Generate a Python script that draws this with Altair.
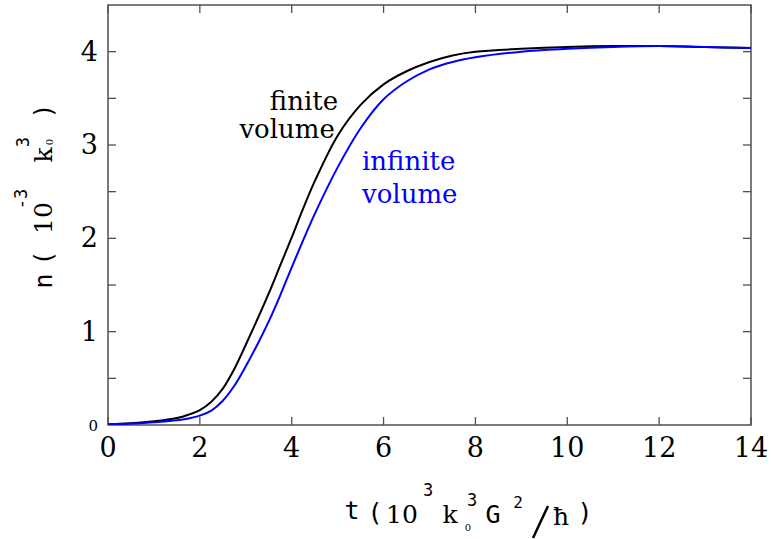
import altair as alt
import pandas as pd

# Number density n (10^-3 k0^3) against time t for the two volumes
t = [0, 0.5, 1, 1.5, 1.75, 2, 2.25, 2.5, 2.75, 3, 3.25, 3.5, 3.75, 4, 4.25, 4.5, 5, 5.5, 6,
     6.5, 7, 7.5, 8, 9, 10, 11, 12, 13, 14]
n_finite = [0.01, 0.02, 0.04, 0.075, 0.11, 0.16, 0.25, 0.39, 0.60, 0.86, 1.13, 1.41, 1.71,
            2.01, 2.32, 2.61, 3.10, 3.43, 3.65, 3.79, 3.89, 3.96, 4.00, 4.03, 4.05, 4.06,
            4.06, 4.05, 4.04]
n_infinite = [0.01, 0.015, 0.03, 0.05, 0.07, 0.10, 0.155, 0.26, 0.42, 0.63, 0.86, 1.11, 1.39,
              1.69, 1.98, 2.26, 2.76, 3.18, 3.49, 3.68, 3.81, 3.89, 3.94, 4.00, 4.03, 4.05,
              4.06, 4.05, 4.04]

x_tick_values = [0, 2, 4, 6, 8, 10, 12, 14]
y_label_values = [1, 2, 3, 4]
y_zero_label = [0]
y_tick_values = [0.5, 1, 1.5, 2, 2.5, 3, 3.5, 4]

W, H = 643, 420
FRAME = "#505050"
SERIF = "DejaVu Serif"
MONO = "DejaVu Sans Mono"

curves = pd.DataFrame({
    "t": t * 2,
    "n": n_finite + n_infinite,
    "volume": ["finite"] * len(t) + ["infinite"] * len(t),
})

xs = alt.Scale(domain=[0, 14], nice=False, zero=False)
ys = alt.Scale(domain=[0, 4.5], nice=False, zero=False)

lines = alt.Chart(curves).mark_line(strokeWidth=2, interpolate="catmull-rom", clip=True).encode(
    x=alt.X("t:Q", scale=xs, axis=None),
    y=alt.Y("n:Q", scale=ys, axis=None),
    color=alt.Color("volume:N", legend=None,
                    scale=alt.Scale(domain=["finite", "infinite"], range=["#000000", "#0000ff"])),
)

# inward ticks on all four sides
xt = pd.DataFrame({"t": x_tick_values})
yt = pd.DataFrame({"n": y_tick_values})
tick = dict(color=FRAME, strokeWidth=1.3)
bottom_ticks = alt.Chart(xt).mark_rule(**tick).encode(
    x=alt.X("t:Q", scale=xs, axis=None), y=alt.value(H), y2=alt.value(H - 8))
top_ticks = alt.Chart(xt).mark_rule(**tick).encode(
    x=alt.X("t:Q", scale=xs, axis=None), y=alt.value(0), y2=alt.value(8))
left_ticks = alt.Chart(yt).mark_rule(**tick).encode(
    y=alt.Y("n:Q", scale=ys, axis=None), x=alt.value(0), x2=alt.value(8))
right_ticks = alt.Chart(yt).mark_rule(**tick).encode(
    y=alt.Y("n:Q", scale=ys, axis=None), x=alt.value(W - 8), x2=alt.value(W))

# tick labels
x_labels = alt.Chart(xt).mark_text(
    font=SERIF, fontSize=27, align="center", baseline="alphabetic", color="black").encode(
    x=alt.X("t:Q", scale=xs, axis=None), y=alt.value(H + 32), text=alt.Text("t:Q"))
y_labels = alt.Chart(pd.DataFrame({"n": y_label_values})).mark_text(
    font=SERIF, fontSize=27, align="right", baseline="middle", color="black", dy=1).encode(
    y=alt.Y("n:Q", scale=ys, axis=None), x=alt.value(-10), text=alt.Text("n:Q"))
y_label0 = alt.Chart(pd.DataFrame({"n": y_zero_label})).mark_text(
    font=SERIF, fontSize=15, align="right", baseline="middle", color="black", dy=1).encode(
    y=alt.Y("n:Q", scale=ys, axis=None), x=alt.value(-10), text=alt.Text("n:Q"))

# curve annotations
ann_text = ["finite", "volume", "infinite", "volume"]
ann_t = [5.01, 4.94, 5.53, 5.53]
ann_n = [3.38, 3.07, 2.73, 2.38]
ann_group = ["finite", "finite", "infinite", "infinite"]
ann = pd.DataFrame({"label": ann_text, "t": ann_t, "n": ann_n, "volume": ann_group})
ann_finite = alt.Chart(ann[ann.volume == "finite"]).mark_text(
    font=SERIF, fontSize=26, align="right", baseline="alphabetic", color="black").encode(
    x=alt.X("t:Q", scale=xs, axis=None), y=alt.Y("n:Q", scale=ys, axis=None), text="label:N")
ann_infinite = alt.Chart(ann[ann.volume == "infinite"]).mark_text(
    font=SERIF, fontSize=26, align="left", baseline="alphabetic", color="#0000ff").encode(
    x=alt.X("t:Q", scale=xs, axis=None), y=alt.Y("n:Q", scale=ys, axis=None), text="label:N")

one = pd.DataFrame({"k": [0]})


def piece(text, x, y, size, font=SERIF, angle=0):
    """A fragment of an axis title, placed in page pixels."""
    return alt.Chart(one).mark_text(
        text=text, font=font, fontSize=size, align="center", baseline="alphabetic",
        angle=angle, color="black").encode(x=alt.value(x - 108), y=alt.value(y - 5))


# x title: t (10^3 k0^3 G^2 / hbar)
x_title = [
    piece("t", 352, 519, 25, MONO),
    piece("(", 375, 521, 25, MONO),
    piece("10", 402, 523, 25),
    piece("3", 428, 496, 17, MONO),
    piece("k", 450, 523, 25),
    piece("3", 472, 506, 17, MONO),
    piece("0", 468, 531, 10),
    piece("G", 493, 523, 25, MONO),
    piece("2", 518, 508, 16, MONO),
    piece("\u0127", 561, 525, 25),
    piece(")", 585, 521, 25, MONO),
]
slash = alt.Chart(one).mark_rule(color="black", strokeWidth=2.5).encode(
    x=alt.value(548 - 108), y=alt.value(506 - 5), x2=alt.value(533 - 108), y2=alt.value(538 - 5))

# y title: n (10^-3 k0^3), rotated
y_title = [
    piece("n", 52, 281, 25, MONO, 270),
    piece("(", 52, 258, 25, MONO, 270),
    piece("10", 52, 218, 25, SERIF, 270),
    piece("-3", 27, 199, 17, MONO, 270),
    piece("k", 52, 155, 25, SERIF, 270),
    piece("3", 29, 142, 17, MONO, 270),
    piece("0", 53, 142, 10, SERIF, 270),
    piece(")", 52, 111, 25, MONO, 270),
]

chart = alt.layer(
    lines, bottom_ticks, top_ticks, left_ticks, right_ticks,
    x_labels, y_labels, y_label0, ann_finite, ann_infinite,
    slash, *x_title, *y_title,
).properties(
    width=W, height=H,
    padding={"left": 108, "top": 5, "right": 20, "bottom": 114},
    autosize=alt.AutoSizeParams(type="none"),
).configure_view(stroke=FRAME, strokeWidth=1.5)

chart.save("out.html", embed_options={"renderer": "svg", "actions": False})
